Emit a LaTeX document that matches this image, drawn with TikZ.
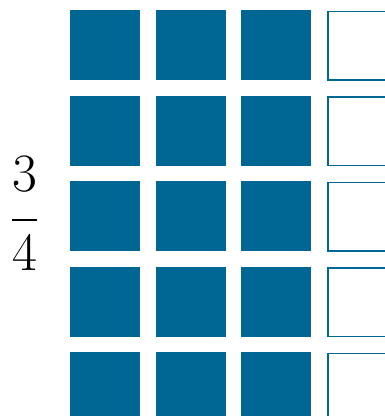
\documentclass[tikz,border=0pt]{standalone}
\usepackage{fontspec}
\newfontfamily\fracfont{lmroman17-regular.otf}
\definecolor{tileblue}{RGB}{0,102,147}
\begin{document}
\begin{tikzpicture}[x=1pt,y=-1pt,
full/.style={fill=tileblue, draw=none, minimum size=70pt, inner sep=0pt, anchor=north west},
empty/.style={draw=tileblue, line width=1.6pt, fill=white, minimum size=68.4pt, inner sep=0pt, anchor=north west},
digit/.style={inner sep=0pt, anchor=base, font=\fracfont\fontsize{54}{60}\selectfont}]
\clip (0,0) rectangle (385,416);
\foreach \r in {0,...,4} {
  \foreach \c in {0,1,2} {
    \node[full] (t\r\c) at (70+85.5*\c, 10+85.5*\r) {};
  }
  \node[empty] (t\r3) at (327.3, 10.8+85.5*\r) {};
}
% fraction 3/4
\node[digit] (num) at (24.5,191.5) {3};
\node[digit] (den) at (24.5,270) {4};
\coordinate (barl) at (12,220);
\coordinate (barr) at (37,220);
\draw[line width=1.5pt] (barl) -- (barr);
\end{tikzpicture}
\end{document}
